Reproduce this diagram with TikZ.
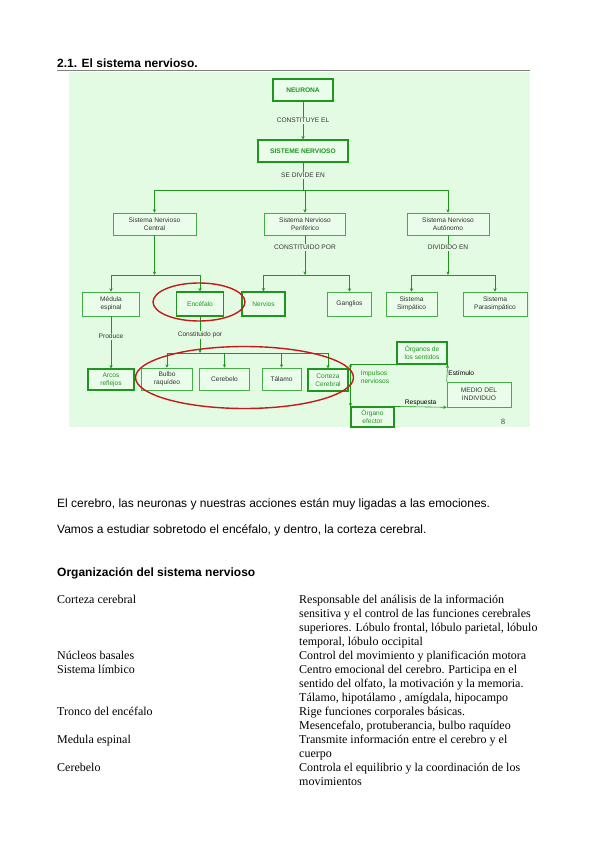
\documentclass[tikz,border=0pt]{standalone}
\usepackage{fontspec}
\setmainfont{Liberation Serif}
\setsansfont{Liberation Sans}
\usetikzlibrary{arrows.meta}

\definecolor{fondo}{HTML}{E3FBE3}
\definecolor{fondoclaro}{HTML}{EAFCEA}
\definecolor{verde}{HTML}{45AD45}
\definecolor{verdeosc}{HTML}{1E961E}
\definecolor{rojoel}{HTML}{C41A1A}
\definecolor{gristexto}{HTML}{333333}

\newcommand{\diag}{\fontsize{6.6}{8}\selectfont\sffamily}
\newcommand{\cuerpo}{\fontsize{12}{14}\selectfont\sffamily}
\newcommand{\serifo}{\fontsize{12}{14}\selectfont\rmfamily}

\begin{document}
\begin{tikzpicture}[x=1pt, y=-1pt, >={Stealth[length=3.4pt,width=3.2pt]},
    caja/.style={rectangle, draw=verde, line width=0.6pt, fill=fondoclaro, font=\diag,
                 text=gristexto, align=center, inner sep=0pt},
    cajag/.style={caja, line width=1.1pt, draw=verdeosc, text=verdeosc},
    cabeza/.style={cajag, font=\diag\bfseries},
    etiq/.style={font=\diag, text=gristexto, inner sep=1pt},
    linea/.style={draw=verdeosc, line width=0.6pt},
    flecha/.style={->, linea},
    rojo/.style={draw=rojoel, line width=1.4pt},
    texto/.style={font=\cuerpo, text=black, anchor=base west, inner sep=0pt},
    tabla/.style={font=\serifo, text=black, anchor=base west, inner sep=0pt}]

    \useasboundingbox (0,0) rectangle (599,848);
    \fill[white] (0,0) rectangle (599,848);

    % titulo y fondo del esquema
    \node (titulo) [texto, font=\cuerpo\bfseries] at (57,68) {2.1. El sistema nervioso.};
    \draw[black!50, line width=1.3pt] (57,70.5) -- (530,70.5);
    \fill[fondo] (69,72) rectangle (530,427);

    % cajas
    \node (neurona)    [cabeza, minimum width=60, minimum height=22] at (303,90)    {NEURONA};
    \node (sistema)    [cabeza, minimum width=90, minimum height=22] at (303,151)   {SISTEME NERVIOSO};
    \node (central)    [caja,  minimum width=83, minimum height=22] at (154.5,224) {Sistema Nervioso\\ Central};
    \node (periferico) [caja,  minimum width=81, minimum height=22] at (305,224)   {Sistema Nervioso\\ Periférico};
    \node (autonomo)   [caja,  minimum width=82, minimum height=22] at (448,224)   {Sistema Nervioso\\ Autónomo};
    \node (medula)     [caja,  minimum width=57, minimum height=24] at (111,304)   {Médula\\ espinal};
    \node (encefalo)   [cajag, minimum width=47, minimum height=24] at (200,304)   {Encéfalo};
    \node (nervios)    [cajag, minimum width=43, minimum height=24] at (263.5,304) {Nervios};
    \node (ganglios)   [caja,  minimum width=44, minimum height=24] at (349.5,304) {Ganglios};
    \node (simpatico)  [caja,  minimum width=51, minimum height=24] at (411.5,304) {Sistema\\ Simpático};
    \node (parasimp)   [caja,  minimum width=64, minimum height=24] at (495,304)   {Sistema\\ Parasimpático};
    \node (arcos)      [cajag, minimum width=46, minimum height=21] at (111,379.5) {Arcos\\ reflejos};
    \node (bulbo)      [caja,  minimum width=51, minimum height=22] at (167,379)   {Bulbo\\ raquídeo};
    \node (cerebelo)   [caja,  minimum width=50, minimum height=22] at (224.5,379) {Cerebelo};
    \node (talamo)     [caja,  minimum width=39, minimum height=22] at (281.5,379) {Tálamo};
    \node (corteza)    [cajag, minimum width=40, minimum height=22] at (328,380)   {Corteza\\ Cerebral};
    \node (sentidos)   [cajag, minimum width=50, minimum height=22] at (422,353)   {Órganos de\\ los sentidos};
    \node (medio)      [caja,  minimum width=64, minimum height=25] at (479,394.5) {MEDIO DEL\\ INDIVIDUO};
    \node (efector)    [cajag, minimum width=43, minimum height=20] at (372.5,417) {Órgano\\ efector};
    \node (impulsos)   [etiq, text=verdeosc, align=left] at (375,377) {Impulsos\\ nerviosos};

    % puntos de reparto
    \coordinate (b1) at (303,190);
    \coordinate (b2) at (154.5,275);
    \coordinate (b3) at (305,275);
    \coordinate (b4) at (448,275);
    \coordinate (b5) at (200,353);
    \coordinate (esq) at (efector.north west |- sentidos.south);

    % conexiones
    \draw [flecha] (neurona) -- node[etiq, fill=fondo] {CONSTITUYE EL} (sistema);
    \draw [linea] (sistema) -- node[etiq, fill=fondo, pos=0.47] {SE DIVIDE EN} (b1);
    \draw [linea] (central |- b1) -- (autonomo |- b1);
    \foreach \n in {central, periferico, autonomo}
        \draw [flecha] (\n |- b1) -- (\n);

    \draw [flecha] (central) -- (b2);
    \draw [linea] (medula |- b2) -- (encefalo |- b2);
    \foreach \n in {medula, encefalo}
        \draw [flecha] (\n |- b2) -- (\n);

    \draw [flecha] (periferico) -- node[etiq, fill=fondo, pos=0.3] {CONSTITUIDO POR} (b3);
    \draw [linea] (nervios |- b3) -- (ganglios |- b3);
    \foreach \n in {nervios, ganglios}
        \draw [flecha] (\n |- b3) -- (\n);

    \draw [flecha] (autonomo) -- node[etiq, fill=fondo, pos=0.3] {DIVIDIDO EN} (b4);
    \draw [linea] (simpatico |- b4) -- (parasimp |- b4);
    \foreach \n in {simpatico, parasimp}
        \draw [flecha] (\n |- b4) -- (\n);

    \draw [flecha] (medula) -- node[etiq, fill=fondo, pos=0.38] {Produce} (arcos);
    \draw [flecha] (encefalo) -- node[etiq, fill=fondo, pos=0.5] {Constituido por} (b5);
    \draw [linea] (bulbo |- b5) -- (corteza |- b5);
    \foreach \n in {bulbo, cerebelo, talamo, corteza}
        \draw [flecha] (\n |- b5) -- (\n);

    % ciclo estimulo - respuesta
    \draw [flecha] (medio.north west) -- node[etiq, right, text=black] {Estímulo} (sentidos.south east);
    \draw [linea] (sentidos.south west) -- (esq);
    \draw [flecha] (esq) -- ++(0,4);
    \draw [flecha] (esq) -- (efector.north west);
    \draw [flecha] (efector.north east) -- node[etiq, above, text=black] {Respuesta} (medio.south west);

    % marcas rojas
    \draw [rojo] (199,302) ellipse (46 and 19);
    \draw [rojo] (244.5,377.5) ellipse (109 and 31);

    \node (pagina) [font=\fontsize{8}{9}\selectfont\rmfamily, text=gristexto] at (503,422) {8};

    % texto
    \node (frase1) [texto] at (57,507) {El cerebro, las neuronas y nuestras acciones están muy ligadas a las emociones.};
    \node (frase2) [texto] at (57,533) {Vamos a estudiar sobretodo el encéfalo, y dentro, la corteza cerebral.};
    \node (org)    [texto, font=\cuerpo\bfseries] at (57,576) {Organización del sistema nervioso};

    % tabla
    \node (izq1) [tabla] at (57,603) {Corteza cerebral};
    \node (izq2) [tabla] at (57,659) {Núcleos basales};
    \node (izq3) [tabla] at (57,673) {Sistema límbico};
    \node (izq4) [tabla] at (57,715) {Tronco del encéfalo};
    \node (izq5) [tabla] at (57,743) {Medula espinal};
    \node (izq6) [tabla] at (57,771) {Cerebelo};
    \foreach \t [count=\i] in {
        {Responsable del análisis de la información},
        {sensitiva y el control de las funciones cerebrales},
        {superiores. Lóbulo frontal, lóbulo parietal, lóbulo},
        {temporal, lóbulo occipital},
        {Control del movimiento y planificación motora},
        {Centro emocional del cerebro. Participa en el},
        {sentido del olfato, la motivación y la memoria.},
        {Tálamo, hipotálamo , amígdala, hipocampo},
        {Rige funciones corporales básicas.},
        {Mesencefalo, protuberancia, bulbo raquídeo},
        {Transmite información entre el cerebro y el},
        {cuerpo},
        {Controla el equilibrio y la coordinación de los},
        {movimientos}}
        \node (der\i) [tabla] at (299,{603+14*(\i-1)}) {\t};
\end{tikzpicture}
\end{document}
